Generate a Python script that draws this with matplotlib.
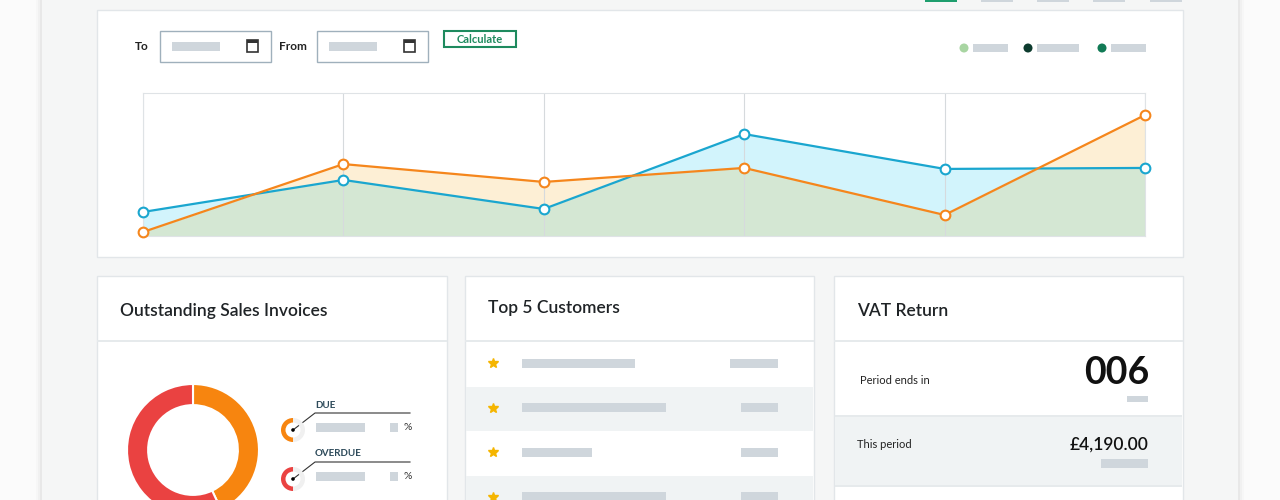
import numpy as np
import matplotlib.pyplot as plt
from matplotlib.patches import Rectangle, Circle, Wedge

plt.rcParams['font.family'] = ['Lato', 'DejaVu Sans']

# chart data (6 periods)
periods = [0, 1, 2, 3, 4, 5]
blue_vals = [16.8, 39.2, 18.9, 71.3, 46.9, 47.6]
orange_vals = [2.8, 50.3, 37.8, 47.6, 14.7, 84.6]

# donut
invoice_labels = ['DUE', 'OVERDUE']
invoice_share = [43, 57]
invoice_colors = ['#f7850f', '#ea4241']

# top 5 customers placeholder bar widths (px)
cust_name_w = [113, 144, 70, 144]
cust_val_w = [48, 37, 37, 37]

vat_days = '006'
vat_period = '£4,190.00'

GRAY = '#cfd6dc'
BORDER = '#e2e6e9'

fig = plt.figure(figsize=(12.8, 5), dpi=100)
fig.patch.set_facecolor('#fbfbfb')
bg = fig.add_axes([0, 0, 1, 1])
bg.set_xlim(0, 1280)
bg.set_ylim(500, 0)
bg.axis('off')


def rect(x0, y0, x1, y1, fc='white', ec='none', lw=1, z=1):
    bg.add_patch(Rectangle((x0, y0), x1 - x0, y1 - y0, fc=fc, ec=ec, lw=lw, zorder=z))


# main panel with soft shadow
for i, a in enumerate([0.015, 0.025, 0.035]):
    rect(42 - 6 + 2 * i, -5, 1238 + 6 - 2 * i, 505, fc=(0, 0, 0, a), z=0)
rect(42, -5, 1238, 505, fc='#f5f6f6', z=0.5)

# tabs at top
rect(925, 0, 957, 2, fc='#1e9e6e', z=2)
for x in [981, 1037, 1093, 1150]:
    rect(x, 0, x + 32, 2, fc=GRAY, z=2)

# chart card
rect(97, 10, 1183, 257, fc='white', ec=BORDER, z=1)
bg.text(135, 46, 'To', fontsize=8.5, fontweight='bold', color='#222', va='center', zorder=3)
bg.text(279, 46, 'From', fontsize=8.5, fontweight='bold', color='#222', va='center', zorder=3)
for x0 in [160, 317]:
    rect(x0, 31, x0 + 111, 62, fc='white', ec='#9fb0bc', z=2)
    rect(x0 + 12, 42, x0 + 60, 51, fc=GRAY, z=3)
    rect(x0 + 87, 40, x0 + 98, 52, fc='white', ec='#333', lw=1.2, z=3)
    rect(x0 + 87, 40, x0 + 98, 43, fc='#333', z=3)
rect(444, 31, 516, 47, fc='white', ec='#1e8a5e', lw=1.5, z=2)
bg.text(480, 39.5, 'Calculate', fontsize=8, fontweight='bold', color='#1e8a5e',
        ha='center', va='center', zorder=3)

for cx, col, w in [(964, '#a8d5a2', 35), (1028, '#0d3b2e', 42), (1102, '#117a55', 35)]:
    bg.add_patch(Circle((cx, 48), 4.5, fc=col, ec='none', zorder=3))
    rect(cx + 9, 44, cx + 9 + w, 52, fc=GRAY, z=3)

# line chart on its own axes
ax = fig.add_axes([143 / 1280, 1 - 236 / 500, (1145 - 143) / 1280, (236 - 93) / 500])
ax.set_xlim(0, 5)
ax.set_ylim(0, 100)
xs = np.array(periods, dtype=float)
b = np.array(blue_vals)
o = np.array(orange_vals)
xf = np.linspace(0, 5, 501)
bf = np.interp(xf, xs, b)
of = np.interp(xf, xs, o)
low = np.minimum(bf, of)
ax.fill_between(xf, 0, low, color='#d4e7d3', lw=0, zorder=1)
ax.fill_between(xf, of, bf, where=bf >= of, color='#d2f4fc', lw=0, zorder=1)
ax.fill_between(xf, bf, of, where=of >= bf, color='#fdefd5', lw=0, zorder=1)
ax.plot(xs, b, color='#1aa6cf', lw=1.6, marker='o', ms=7, mfc='white', mew=1.5, zorder=4, clip_on=False)
ax.plot(xs, o, color='#f5861c', lw=1.6, marker='o', ms=7, mfc='white', mew=1.5, zorder=5, clip_on=False)
ax.set_xticks(periods)
ax.grid(axis='x', color='#d6dadd', lw=0.8, zorder=2)
ax.tick_params(length=0, labelbottom=False, labelleft=False)
for s in ax.spines.values():
    s.set_color('#dfe3e6')
ax.set_facecolor('none')

# bottom cards
cards = [(97, 447, 'Outstanding Sales Invoices', 311),
         (465, 814, 'Top 5 Customers', 308),
         (834, 1183, 'VAT Return', 311)]
for x0, x1, title, ty in cards:
    rect(x0, 276, x1, 510, fc='white', ec=BORDER, z=1)
    rect(x0, 340, x1, 342, fc='#e6eaec', z=2)
    bg.text(x0 + 23, ty, title, fontsize=12.5, fontweight='semibold', color='#1f2326',
            va='center', zorder=3)

# donut
dax = fig.add_axes([(193 - 66) / 1280, 1 - (450 + 66) / 500, 132 / 1280, 132 / 500])
dax.pie(invoice_share, colors=invoice_colors, startangle=90, counterclock=False,
        wedgeprops=dict(width=0.32, edgecolor='white', linewidth=1.5))
dax.set_xlim(-1, 1)
dax.set_ylim(-1, 1)
dax.set_aspect('equal')

for i, (lab, share, col) in enumerate(zip(invoice_labels, invoice_share, invoice_colors)):
    y = 405 + i * 49
    bg.text(315, y, lab, fontsize=7, color='#2d4a5a', fontweight='bold', va='center', zorder=3)
    bg.plot([293, 315, 410], [y + 25, y + 8, y + 8], color='#333', lw=0.8, zorder=3)
    bg.add_patch(Wedge((293, y + 25), 12, 90, 270, width=4.5, fc=col, ec='none', zorder=3))
    bg.add_patch(Wedge((293, y + 25), 12, -90, 90, width=4.5, fc='#f0f0f0', ec='none', zorder=3))
    bg.add_patch(Circle((293, y + 25), 1.8, fc='black', zorder=4))
    rect(316, y + 18, 365, y + 27, fc=GRAY, z=3)
    rect(390, y + 18, 398, y + 27, fc=GRAY, z=3)
    bg.text(404, y + 22.5, '%', fontsize=7.5, color='#333', va='center', zorder=3)

# top 5 customers rows
for i, (nw, vw) in enumerate(zip(cust_name_w, cust_val_w)):
    y0 = 342 + i * 44.5
    if i % 2 == 1:
        rect(466, y0, 813, y0 + 44.5, fc='#f0f3f4', z=2)
    yc = y0 + 21
    bg.plot(493, yc, marker='*', color='#f5b500', ms=7, zorder=4)
    rect(522, yc - 4.5, 522 + nw, yc + 4.5, fc=GRAY, z=3)
    rect(778 - vw, yc - 4.5, 778, yc + 4.5, fc=GRAY, z=3)

# VAT return
bg.text(860, 380, 'Period ends in', fontsize=8, color='#222', va='center', zorder=3)
bg.text(1149, 373, vat_days, fontsize=27, fontweight='bold', color='#111', ha='right',
        va='center', zorder=3)
rect(1127, 396, 1148, 402, fc=GRAY, z=3)
rect(835, 416, 1182, 486, fc='#f0f3f4', z=2)
rect(835, 415, 1182, 417, fc='#e6eaec', z=2)
rect(835, 485, 1182, 487, fc='#e6eaec', z=2)
bg.text(857, 445, 'This period', fontsize=8, color='#222', va='center', zorder=3)
bg.text(1149, 445, vat_period, fontsize=12.5, fontweight='semibold', color='#111', ha='right',
        va='center', zorder=3)
rect(1101, 459, 1148, 468, fc=GRAY, z=3)

fig.savefig('out.png', dpi=100, facecolor=fig.get_facecolor())
